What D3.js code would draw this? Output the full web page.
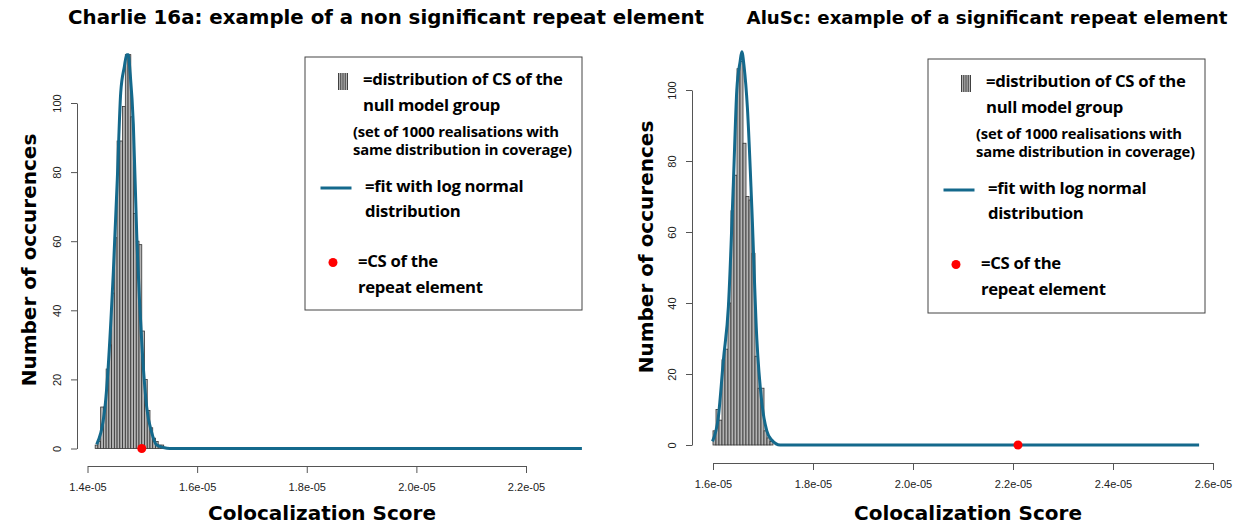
<!DOCTYPE html>
<html>
<head>
    <meta charset="utf-8">
    <style>
        body { margin: 0; background: white; }
        svg { display: block; }
        .title { font-family: 'DejaVu Sans', sans-serif; font-weight: bold; }
        .axis-title { font-family: 'DejaVu Sans', sans-serif; font-weight: bold; font-size: 20px; }
        .tick text { font-family: 'Liberation Sans', Arial, sans-serif; font-size: 11px; fill: #222; }
        .tick line, .domain { stroke: #555; }
        .leg { font-family: 'Open Sans', sans-serif; font-weight: bold; font-size: 16.7px; letter-spacing: -0.3px; }
        .leg-small { font-family: 'Open Sans', sans-serif; font-weight: bold; font-size: 14.8px; letter-spacing: -0.2px; }
    </style>
</head>
<body>
<svg width="1239" height="525"></svg>

<script src="https://d3js.org/d3.v7.min.js"></script>
<script>
    // ---- data ----
    // left panel: Charlie 16a
    let leftBinStart = 1.414e-05
    let leftBinWidth = 5e-08
    let leftCounts = [1, 2, 12, 12, 23, 30, 45, 61, 89, 89, 99, 114, 114, 96, 68, 60, 59, 34, 20, 11, 6, 3, 2, 1, 1]
    let leftFitX = [1.4168e-05, 1.4319e-05, 1.4471e-05, 1.4544e-05, 1.4606e-05, 1.4672e-05, 1.4715e-05, 1.4745e-05,
        1.4776e-05, 1.4836e-05, 1.4898e-05, 1.4989e-05, 1.5080e-05, 1.5172e-05, 1.5263e-05, 1.5383e-05, 1.5505e-05, 2.302e-05]
    let leftFitY = [1.2, 12, 51, 78, 103, 110.5, 114, 114, 109, 94, 62, 31, 12, 4.6, 1, 0.3, 0, 0]
    let leftCS = 1.499e-05

    // right panel: AluSc
    let rightBinStart = 1.6e-05
    let rightBinWidth = 6e-08
    let rightCounts = [4, 10, 7, 24, 27, 40, 66, 76, 106, 108, 85, 70, 69, 54, 25, 16, 16, 4, 2, 1]
    let rightFitX = [1.5990e-05, 1.6108e-05, 1.6208e-05, 1.6308e-05, 1.6408e-05, 1.6476e-05, 1.6542e-05, 1.6576e-05,
        1.6622e-05, 1.6688e-05, 1.6776e-05, 1.6876e-05, 1.6976e-05, 1.7076e-05, 1.7176e-05, 1.7342e-05, 2.5722e-05]
    let rightFitY = [1, 8, 24, 39, 74, 100, 108, 110.8, 106.6, 95, 67, 30, 12, 4, 1.4, 0, 0]
    let rightCS = 2.21e-05

    let leftXTicks = [1.4e-05, 1.6e-05, 1.8e-05, 2.0e-05, 2.2e-05]
    let rightXTicks = [1.6e-05, 1.8e-05, 2.0e-05, 2.2e-05, 2.4e-05, 2.6e-05]
    let yTicks = [0, 20, 40, 60, 80, 100]

    let legendLines = [
        { text: "=distribution of CS of the", cls: "leg", dx: 58, dy: 27.5 },
        { text: "null model group", cls: "leg", dx: 58, dy: 53.5 },
        { text: "(set of 1000 realisations with", cls: "leg-small", dx: 48, dy: 79.5 },
        { text: "same distribution in coverage)", cls: "leg-small", dx: 48, dy: 98 },
        { text: "=fit with log normal", cls: "leg", dx: 60, dy: 134.5 },
        { text: "distribution", cls: "leg", dx: 60, dy: 160 },
        { text: "=CS of the", cls: "leg", dx: 53, dy: 209.5 },
        { text: "repeat element", cls: "leg", dx: 53, dy: 235.5 }
    ]

    let curveColor = "#14698c"
    let svg = d3.select("svg")

    function fmtSci(d) {
        let s = d.toExponential(1)
        return s.replace(/e-(\d)$/, "e-0$1")
    }

    function drawPanel(p) {
        let g = svg.append("g")
        let x = d3.scaleLinear().domain(p.xDomain).range(p.xRange)
        let y = d3.scaleLinear().domain([0, 100]).range(p.yRange)

        // histogram bars
        g.append("g")
            .selectAll("rect")
            .data(p.counts)
            .join("rect")
            .attr("x", (d, i) => x(p.binStart + i * p.binWidth))
            .attr("width", (d, i) => x(p.binStart + (i + 1) * p.binWidth) - x(p.binStart + i * p.binWidth))
            .attr("y", d => y(d))
            .attr("height", d => y(0) - y(d))
            .attr("fill", "#b4b4b4")
            .attr("stroke", "#333")
            .attr("stroke-width", 0.8)

        // log normal fit
        let line = d3.line()
            .x(d => x(d[0]))
            .y(d => y(d[1]))
            .curve(d3.curveMonotoneX)
        g.append("path")
            .datum(d3.zip(p.fitX, p.fitY))
            .attr("d", line)
            .attr("fill", "none")
            .attr("stroke", curveColor)
            .attr("stroke-width", 3)
            .attr("stroke-linejoin", "round")

        // CS of repeat element
        g.append("circle")
            .attr("cx", x(p.cs))
            .attr("cy", y(0))
            .attr("r", 4.5)
            .attr("fill", "#ff0000")

        // axes
        g.append("g")
            .attr("transform", `translate(0,${p.xAxisY})`)
            .call(d3.axisBottom(x).tickValues(p.xTicks).tickFormat(fmtSci).tickSize(7).tickSizeOuter(0))
            .call(a => a.selectAll(".tick text").attr("dy", "1.4em"))

        g.append("g")
            .attr("transform", `translate(${p.yAxisX},0)`)
            .call(d3.axisLeft(y).tickValues(yTicks).tickSize(6).tickSizeOuter(0))
            .call(a => a.selectAll(".tick text")
                .attr("transform", "rotate(-90)")
                .attr("x", 0)
                .attr("y", -16)
                .attr("dy", 0)
                .attr("text-anchor", "middle"))

        // titles
        svg.append("text")
            .attr("class", "title")
            .attr("x", p.titleX)
            .attr("y", 24)
            .attr("text-anchor", "middle")
            .style("font-size", p.titleSize + "px")
            .text(p.title)

        svg.append("text")
            .attr("class", "axis-title")
            .attr("x", p.xTitleX)
            .attr("y", 520)
            .attr("text-anchor", "middle")
            .text("Colocalization Score")

        svg.append("text")
            .attr("class", "axis-title")
            .attr("transform", `translate(${p.yTitleX},${p.yTitleY}) rotate(-90)`)
            .attr("text-anchor", "middle")
            .text("Number of occurences")

        // legend box
        let lg = svg.append("g").attr("transform", `translate(${p.legend[0]},${p.legend[1]})`)
        lg.append("rect")
            .attr("width", p.legend[2])
            .attr("height", p.legend[3])
            .attr("fill", "white")
            .attr("stroke", "#444")
            .attr("stroke-width", 1)

        // striped icon
        lg.append("rect")
            .attr("x", 33).attr("y", 16).attr("width", 10).attr("height", 17)
            .attr("fill", "#b4b4b4")
        lg.selectAll(".stripe")
            .data([0, 1, 2, 3, 4])
            .join("line")
            .attr("x1", d => 33.5 + d * 2.25).attr("x2", d => 33.5 + d * 2.25)
            .attr("y1", 16).attr("y2", 33)
            .attr("stroke", "#333").attr("stroke-width", 0.9)

        lg.append("line")
            .attr("x1", 15.5).attr("x2", 46.5)
            .attr("y1", 131).attr("y2", 131)
            .attr("stroke", curveColor).attr("stroke-width", 3)

        lg.append("circle")
            .attr("cx", 28).attr("cy", 205.5).attr("r", 4.5)
            .attr("fill", "#ff0000")

        lg.selectAll(".legtext")
            .data(legendLines)
            .join("text")
            .attr("class", d => d.cls)
            .attr("x", d => d.dx)
            .attr("y", d => d.dy)
            .text(d => d.text)
    }

    drawPanel({
        title: "Charlie 16a: example of a non significant repeat element",
        titleX: 386, titleSize: 19.8,
        xDomain: [1.4e-05, 2.2e-05], xRange: [87.5, 526],
        yRange: [448.5, 103],
        xAxisY: 466, yAxisX: 77,
        xTicks: leftXTicks,
        binStart: leftBinStart, binWidth: leftBinWidth, counts: leftCounts,
        fitX: leftFitX, fitY: leftFitY, cs: leftCS,
        xTitleX: 322, yTitleX: 36, yTitleY: 260,
        legend: [305, 57, 277, 253]
    })

    drawPanel({
        title: "AluSc: example of a significant repeat element",
        titleX: 987, titleSize: 18.2,
        xDomain: [1.6e-05, 2.6e-05], xRange: [713, 1213],
        yRange: [445, 90],
        xAxisY: 463, yAxisX: 692,
        xTicks: rightXTicks,
        binStart: rightBinStart, binWidth: rightBinWidth, counts: rightCounts,
        fitX: rightFitX, fitY: rightFitY, cs: rightCS,
        xTitleX: 968, yTitleX: 653, yTitleY: 247,
        legend: [928, 59, 277, 254]
    })
</script>
</body>
</html>
